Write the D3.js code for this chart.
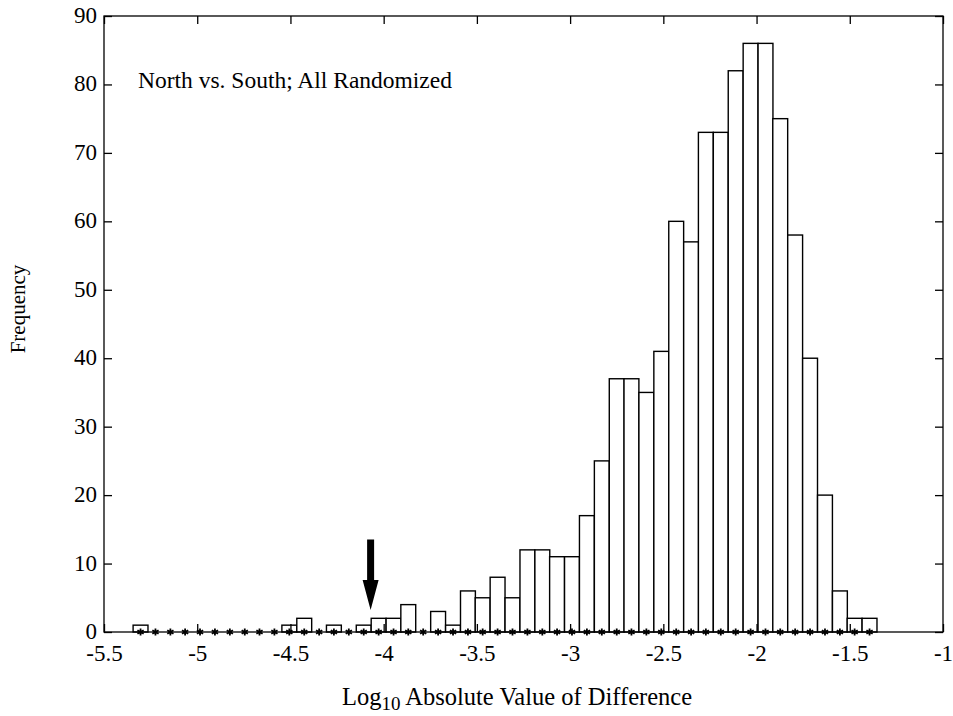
<!DOCTYPE html>
<html>
<head>
<meta charset="utf-8">
<script src="https://cdn.jsdelivr.net/npm/d3@7"></script>
<style>
  body { margin: 0; background: #fff; }
  svg text { font-family: "Liberation Serif", "Times New Roman", serif; fill: #000; }
</style>
</head>
<body>
<div id="graph_area"></div>
<script>
// histogram bin centres (log10 |difference|)
var binCenters = [-5.304, -5.224, -5.144, -5.065, -4.985, -4.905, -4.825, -4.745, -4.666, -4.586,
                  -4.506, -4.426, -4.346, -4.267, -4.187, -4.107, -4.027, -3.947, -3.868, -3.788,
                  -3.708, -3.628, -3.548, -3.469, -3.389, -3.309, -3.229, -3.149, -3.070, -2.990,
                  -2.910, -2.830, -2.750, -2.671, -2.591, -2.511, -2.431, -2.351, -2.272, -2.192,
                  -2.112, -2.032, -1.952, -1.873, -1.793, -1.713, -1.633, -1.553, -1.474, -1.394];
var binWidth = 0.0798;

// frequency per bin
var counts = [1, 0, 0, 0, 0, 0, 0, 0, 0, 0,
              1, 2, 0, 1, 0, 1, 2, 2, 4, 0,
              3, 1, 6, 5, 8, 5, 12, 12, 11, 11,
              17, 25, 37, 37, 35, 41, 60, 57, 73, 73,
              82, 86, 86, 75, 58, 40, 20, 6, 2, 2];

var xTicks = [-5.5, -5, -4.5, -4, -3.5, -3, -2.5, -2, -1.5, -1];
var yTicks = [0, 10, 20, 30, 40, 50, 60, 70, 80, 90];

var arrowAt = -4.07; // observed value marker
var legendText = 'North vs. South; All Randomized';

function draw() {
    var w = 953, h = 716;
    var margin = {top: 16, right: 10, bottom: 84, left: 104};

    var svg = d3.select('#graph_area').append('svg')
        .attr('width', w)
        .attr('height', h);

    var x = d3.scaleLinear().domain([-5.5, -1]).range([margin.left, w - margin.right]);
    var y = d3.scaleLinear().domain([0, 90]).range([h - margin.bottom, margin.top]);

    var data = binCenters.map(function(c, i) { return {c: c, n: counts[i]}; });

    // bars
    svg.append('g')
        .selectAll('rect')
        .data(data.filter(function(d) { return d.n > 0; }))
        .enter().append('rect')
            .attr('x', function(d) { return x(d.c - binWidth / 2); })
            .attr('width', function(d) { return x(d.c + binWidth / 2) - x(d.c - binWidth / 2); })
            .attr('y', function(d) { return y(d.n); })
            .attr('height', function(d) { return y(0) - y(d.n); })
            .attr('fill', '#fff')
            .attr('stroke', '#000')
            .attr('stroke-width', 1.4);

    // box
    svg.append('rect')
        .attr('x', x(-5.5)).attr('y', y(90))
        .attr('width', x(-1) - x(-5.5)).attr('height', y(0) - y(90))
        .attr('fill', 'none').attr('stroke', '#000').attr('stroke-width', 1.3);

    var tick = 8;

    // axes (ticks pointing in)
    var xb = svg.append('g').attr('transform', 'translate(0,' + y(0) + ')')
        .call(d3.axisBottom(x).tickValues(xTicks).tickSizeInner(-tick).tickSizeOuter(0).tickPadding(13)
            .tickFormat(function(d) { return d; }));
    var xt = svg.append('g').attr('transform', 'translate(0,' + y(90) + ')')
        .call(d3.axisTop(x).tickValues(xTicks).tickSizeInner(-tick).tickSizeOuter(0).tickFormat(''));
    var yl = svg.append('g').attr('transform', 'translate(' + x(-5.5) + ',0)')
        .call(d3.axisLeft(y).tickValues(yTicks).tickSizeInner(-tick).tickSizeOuter(0).tickPadding(7));
    var yr = svg.append('g').attr('transform', 'translate(' + x(-1) + ',0)')
        .call(d3.axisRight(y).tickValues(yTicks).tickSizeInner(-tick).tickSizeOuter(0).tickFormat(''));

    [xb, xt, yl, yr].forEach(function(g) {
        g.select('.domain').remove();
        g.selectAll('line').attr('stroke', '#000').attr('stroke-width', 1.3);
        g.selectAll('text').style('font-family', '"Liberation Serif", serif').style('font-size', '23px').attr('fill', '#000');
    });
    xb.selectAll('text').attr('dy', '0.71em');
    yl.selectAll('text').attr('dy', '0.28em');

    // star markers at every bin centre
    svg.append('g')
        .selectAll('path')
        .data(data)
        .enter().append('path')
            .attr('d', d3.symbol(d3.symbolAsterisk, 36))
            .attr('transform', function(d) { return 'translate(' + x(d.c) + ',' + y(0) + ')'; })
            .attr('fill', 'none')
            .attr('stroke', '#000')
            .attr('stroke-width', 1.8);

    // arrow
    var ax = x(arrowAt);
    var arrow = d3.path();
    arrow.moveTo(ax - 3.5, y(13.5));
    arrow.lineTo(ax + 3.5, y(13.5));
    arrow.lineTo(ax + 3.5, y(7.6));
    arrow.lineTo(ax + 8, y(7.6));
    arrow.lineTo(ax, y(3.2));
    arrow.lineTo(ax - 8, y(7.6));
    arrow.lineTo(ax - 3.5, y(7.6));
    arrow.closePath();
    svg.append('path').attr('d', arrow.toString()).attr('fill', '#000');

    // legend text
    svg.append('text')
        .attr('x', 138).attr('y', 88)
        .style('font-size', '23.5px')
        .text(legendText);

    // y label
    svg.append('text')
        .attr('transform', 'translate(25,309) rotate(-90)')
        .attr('text-anchor', 'middle')
        .style('font-size', '21px')
        .text('Frequency');

    // x label
    var xl = svg.append('text')
        .attr('x', 342).attr('y', 705)
        .style('font-size', '24.5px');
    xl.append('tspan').text('Log');
    xl.append('tspan').attr('dy', 5).style('font-size', '19px').text('10');
    xl.append('tspan').attr('dy', -5).text(' Absolute Value of Difference');
}

window.onload = draw;
</script>
</body>
</html>
